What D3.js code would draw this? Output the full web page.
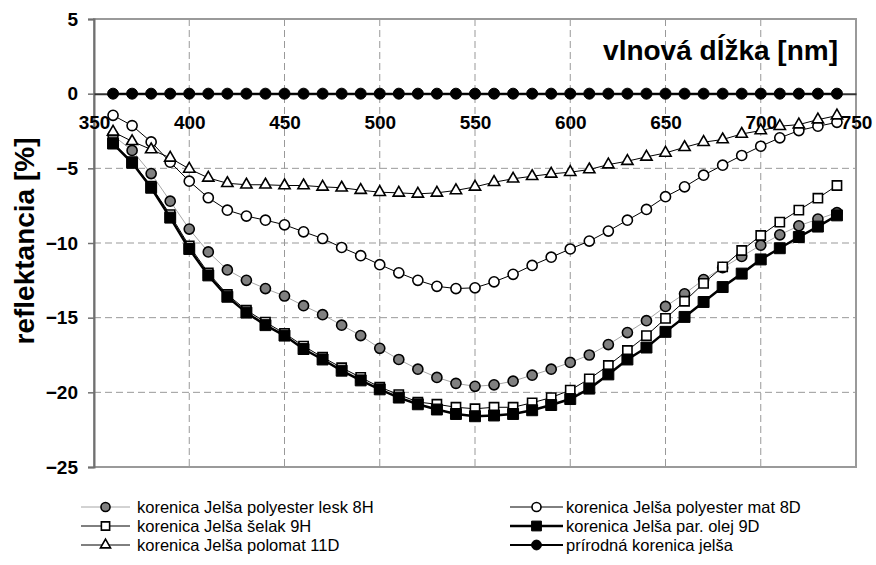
<!DOCTYPE html>
<html>
<head>
<meta charset="utf-8">
<script src="https://cdn.jsdelivr.net/npm/d3@7"></script>
<style>
  body { margin: 0; background: #fff; }
  svg { display: block; font-family: "Liberation Sans", Arial, sans-serif; }
</style>
</head>
<body>
<div id="chart"></div>
<script>
"use strict";

/* ── Data ── */
const wavelengths = [360, 370, 380, 390, 400, 410, 420, 430, 440, 450, 460, 470, 480, 490, 500,
  510, 520, 530, 540, 550, 560, 570, 580, 590, 600, 610, 620, 630, 640, 650, 660, 670, 680, 690,
  700, 710, 720, 730, 740];

const lesk8H = [-2.8, -3.8, -5.35, -7.2, -9.07, -10.6, -11.8, -12.5, -13.05, -13.55, -14.2, -14.8,
  -15.5, -16.2, -17.05, -17.8, -18.45, -19.0, -19.4, -19.6, -19.5, -19.25, -18.85, -18.45, -18.0,
  -17.5, -16.8, -16.0, -15.2, -14.25, -13.4, -12.45, -11.65, -10.9, -10.15, -9.45, -8.85, -8.4, -7.97];

const mat8D = [-1.45, -2.14, -3.23, -4.59, -5.86, -6.97, -7.8, -8.2, -8.47, -8.78, -9.25, -9.7,
  -10.3, -10.85, -11.45, -12.0, -12.5, -12.9, -13.05, -13.0, -12.6, -12.1, -11.5, -10.95, -10.4,
  -9.87, -9.2, -8.47, -7.75, -6.9, -6.24, -5.46, -4.79, -4.14, -3.52, -2.96, -2.47, -2.18, -1.92];

const selak9H = [-3.3, -4.55, -6.2, -8.1, -10.2, -12.0, -13.45, -14.5, -15.3, -16.05, -16.9, -17.65,
  -18.35, -19.0, -19.65, -20.15, -20.65, -20.8, -21.0, -21.1, -21.0, -21.0, -20.7, -20.35, -19.85,
  -19.1, -18.2, -17.2, -16.2, -15.05, -13.9, -12.7, -11.6, -10.5, -9.5, -8.6, -7.8, -7.0, -6.15];

const olej9D = [-3.34, -4.63, -6.3, -8.3, -10.4, -12.17, -13.6, -14.66, -15.5, -16.2, -17.1, -17.8,
  -18.55, -19.2, -19.8, -20.35, -20.8, -21.15, -21.45, -21.6, -21.55, -21.45, -21.2, -20.85, -20.45,
  -19.75, -18.8, -17.8, -17.0, -15.95, -14.95, -13.95, -12.95, -12.05, -11.1, -10.35, -9.6, -8.9, -8.15];

const polomat11D = [-2.56, -3.19, -3.74, -4.3, -5.04, -5.64, -6.0, -6.1, -6.1, -6.15, -6.15, -6.24,
  -6.3, -6.46, -6.6, -6.64, -6.71, -6.64, -6.48, -6.24, -5.93, -5.7, -5.53, -5.37, -5.26,
  -5.08, -4.75, -4.52, -4.23, -3.97, -3.59, -3.25, -3.07, -2.7, -2.47, -2.18, -2.07, -1.74, -1.47];

const prirodna = [0, 0, 0, 0, 0, 0, 0, 0, 0, 0, 0, 0, 0, 0, 0, 0, 0, 0, 0, 0, 0, 0, 0, 0, 0,
  0, 0, 0, 0, 0, 0, 0, 0, 0, 0, 0, 0, 0, 0];

const seriesNames = [
  "korenica Jelša polyester lesk 8H",
  "korenica Jelša polyester mat 8D",
  "korenica Jelša šelak 9H",
  "korenica Jelša par. olej 9D",
  "korenica Jelša polomat 11D",
  "prírodná korenica jelša"
];

const xTicks = [350, 400, 450, 500, 550, 600, 650, 700, 750];
const yTicks = [5, 0, -5, -10, -15, -20, -25];

/* ── Series styles ── */
const styles = [
  { values: lesk8H,     line: "#a6a6a6", lw: 1,   sym: d3.symbolCircle,   size: 80,  fill: "#808080", sw: 1.6 },
  { values: mat8D,      line: "#000",    lw: 1,   sym: d3.symbolCircle,   size: 80,  fill: "#fff",    sw: 1.6 },
  { values: selak9H,    line: "#000",    lw: 1,   sym: d3.symbolSquare,   size: 85,  fill: "#fff",    sw: 1.6 },
  { values: olej9D,     line: "#000",    lw: 2.5, sym: d3.symbolSquare,   size: 120, fill: "#000",    sw: 1 },
  { values: polomat11D, line: "#000",    lw: 1,   sym: d3.symbolTriangle, size: 55,  fill: "#fff",    sw: 1.6 },
  { values: prirodna,   line: "#000",    lw: 2,   sym: d3.symbolCircle,   size: 95,  fill: "#000",    sw: 1 }
];

/* ── Dimensions ── */
const W = 876, H = 565;
const plot = { left: 94, right: 856, top: 19, bottom: 467 };

const svg = d3.select("#chart").append("svg")
  .attr("width", W).attr("height", H);

const x = d3.scaleLinear().domain([350, 750]).range([plot.left, plot.right]);
const y = d3.scaleLinear().domain([-25, 5]).range([plot.bottom, plot.top]);

/* ── Gridlines ── */
svg.append("g")
  .selectAll("line")
  .data(xTicks.filter(t => t > 350 && t < 750))
  .join("line")
  .attr("x1", d => x(d)).attr("x2", d => x(d))
  .attr("y1", plot.top).attr("y2", plot.bottom)
  .attr("stroke", "#999").attr("stroke-dasharray", "7,4");

svg.append("g")
  .selectAll("line")
  .data(yTicks.filter(t => t < 5 && t > -25 && t !== 0))
  .join("line")
  .attr("x1", plot.left).attr("x2", plot.right)
  .attr("y1", d => y(d)).attr("y2", d => y(d))
  .attr("stroke", "#999").attr("stroke-dasharray", "7,4");

/* ── Frame ── */
svg.append("rect")
  .attr("x", plot.left).attr("y", plot.top)
  .attr("width", plot.right - plot.left).attr("height", plot.bottom - plot.top)
  .attr("fill", "none").attr("stroke", "#9a9a9a").attr("stroke-width", 2);

/* ── Y axis ── */
svg.append("g")
  .attr("transform", `translate(${plot.left},0)`)
  .call(d3.axisLeft(y).tickValues(yTicks).tickSize(6).tickPadding(10))
  .call(g => {
    g.select(".domain").attr("stroke", "#707070").attr("stroke-width", 2);
    g.selectAll(".tick line").attr("stroke", "#707070").attr("stroke-width", 1.5);
    g.selectAll(".tick text")
      .attr("fill", "#000").attr("font-size", "19px").attr("font-weight", "bold")
      .attr("font-family", "Liberation Sans, Arial, sans-serif");
  });

/* ── X axis (crosses at 0) ── */
svg.append("g")
  .attr("transform", `translate(0,${y(0)})`)
  .call(d3.axisBottom(x).tickValues(xTicks).tickSize(0).tickPadding(22))
  .call(g => {
    g.select(".domain").attr("stroke", "#333").attr("stroke-width", 2);
    g.selectAll(".tick text")
      .attr("fill", "#000").attr("font-size", "19px").attr("font-weight", "bold")
      .attr("font-family", "Liberation Sans, Arial, sans-serif");
  });

/* ── Axis titles ── */
svg.append("text")
  .attr("x", 838).attr("y", 60)
  .attr("text-anchor", "end")
  .attr("font-size", "28px").attr("font-weight", "bold")
  .text("vlnová dĺžka [nm]");

svg.append("text")
  .attr("transform", "rotate(-90)")
  .attr("x", -241).attr("y", 34)
  .attr("text-anchor", "middle")
  .attr("font-size", "28px").attr("font-weight", "bold")
  .text("reflektancia [%]");

/* ── Series ── */
const line = d3.line().x((d, i) => x(wavelengths[i])).y(d => y(d));

styles.forEach(s => {
  const g = svg.append("g");
  g.append("path")
    .datum(s.values)
    .attr("d", line)
    .attr("fill", "none")
    .attr("stroke", s.line).attr("stroke-width", s.lw);

  g.selectAll("path.mark")
    .data(s.values)
    .join("path")
    .attr("class", "mark")
    .attr("transform", (d, i) => `translate(${x(wavelengths[i])},${y(d)})`)
    .attr("d", d3.symbol().type(s.sym).size(s.size))
    .attr("fill", s.fill).attr("stroke", "#000").attr("stroke-width", s.sw);
});

/* ── Legend ── */
const legendCols = [{ x0: 81, x1: 130, tx: 137 }, { x0: 510, x1: 563, tx: 566 }];
const legendRows = [507, 526, 545];

styles.forEach((s, i) => {
  const c = legendCols[i % 2];
  const ry = legendRows[Math.floor(i / 2)];
  const g = svg.append("g");
  g.append("line")
    .attr("x1", c.x0).attr("x2", c.x1).attr("y1", ry).attr("y2", ry)
    .attr("stroke", s.line).attr("stroke-width", s.lw);
  g.append("path")
    .attr("transform", `translate(${(c.x0 + c.x1) / 2},${ry})`)
    .attr("d", d3.symbol().type(s.sym).size(s.size * 0.8))
    .attr("fill", s.fill).attr("stroke", "#000").attr("stroke-width", s.sw);
  g.append("text")
    .attr("x", c.tx).attr("y", ry + 6)
    .attr("font-size", "16.5px").attr("fill", "#000")
    .text(seriesNames[i]);
});
</script>
</body>
</html>
